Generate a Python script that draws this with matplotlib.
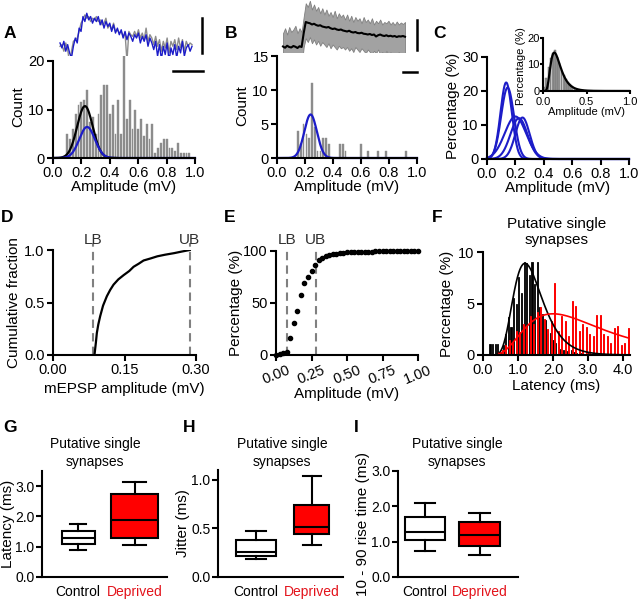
import numpy as np
import matplotlib.pyplot as plt
from matplotlib.lines import Line2D

plt.rcParams['font.family'] = ['Liberation Sans', 'DejaVu Sans']
plt.rcParams['axes.linewidth'] = 1.5
plt.rcParams['xtick.major.width'] = 1.5
plt.rcParams['ytick.major.width'] = 1.5
plt.rcParams['xtick.major.size'] = 4
plt.rcParams['ytick.major.size'] = 4
plt.rcParams['xtick.labelsize'] = 10.5
plt.rcParams['ytick.labelsize'] = 10.5
plt.rcParams['axes.labelsize'] = 11

W, H = 640, 600
BLUE = '#1c1cc8'
GREY = '#8c8c8c'
RED = '#ff0000'

# ---------------- data ----------------
# A: example traces (relative units, baseline 0, peak 1)
a_trace_grey = [0.05, 0.1, -0.1, 0.15, -0.05, -0.45, -0.1, 0.2, 0.25, 0.3,
                0.5, 0.75, 0.85, 1.0, 0.9, 0.95, 0.8, 0.9, 0.85, 0.95,
                0.8, 0.85, 0.7, 0.75, 0.9, 0.6, 0.7, 0.55, 0.75, 0.5,
                0.55, 0.45, 0.5, 0.35, 0.45, -0.4, 0.5, 0.4, 0.35, 0.5,
                0.35, 0.55, 0.3, 0.45, 0.25, 0.6, 0.2, 0.4, 0.3, 0.1,
                0.35, 0.05, 0.25, -0.1, 0.2, 0.0, 0.3, -0.15, 0.2, 0.05,
                0.25, -0.05, 0.3, 0.0, 0.25, -0.1, 0.2, 0.05, 0.15, 0.1]
a_trace_blue = [0.15, 0.0, 0.2, -0.1, 0.1, -0.15, -0.3, 0.05, 0.3, 0.15,
                0.6, 0.5, 0.95, 0.8, 1.05, 0.85, 0.95, 0.75, 0.9, 0.8,
                0.95, 0.7, 0.85, 0.6, 0.8, 0.65, 0.75, 0.5, 0.7, 0.45,
                0.6, 0.4, 0.55, 0.3, 0.5, 0.25, 0.45, 0.35, 0.2, 0.4,
                0.3, 0.45, 0.15, 0.35, 0.2, 0.4, 0.05, 0.3, 0.15, -0.05,
                0.2, -0.25, 0.1, -0.35, 0.05, -0.2, 0.15, -0.4, 0.0, -0.2,
                0.1, -0.3, 0.05, -0.15, 0.2, -0.25, 0.0, 0.1, -0.1, 0.05]
a_bin_start, a_bin_step = 0.10, 0.02
a_counts = [5, 4, 6, 9, 11, 11.5, 12, 14, 7.5, 8.5, 5, 9, 13, 15, 15, 9, 11, 5,
            12, 5, 21, 8, 12, 6, 10, 6, 8, 4.5, 7, 4, 7, 1, 2, 3, 4, 4, 2, 2,
            1.5, 3, 1, 1, 1, 1]
a_fit_black = (10.7, 0.225, 0.055)   # peak, centre, sd
a_fit_blue = (6.4, 0.24, 0.055)

# B: mean trace and spread of sweeps
b_mean = [0.02, -0.03, 0.05, 0.00, -0.02, 0.04, 0.01, -0.04, 0.03, 0.00,
          0.55, 1.00, 0.97, 0.95, 0.90, 0.93, 0.88, 0.85, 0.87, 0.82,
          0.80, 0.78, 0.80, 0.75, 0.72, 0.74, 0.70, 0.68, 0.70, 0.66,
          0.64, 0.62, 0.65, 0.60, 0.58, 0.60, 0.56, 0.55, 0.57, 0.53,
          0.52, 0.50, 0.52, 0.48, 0.50, 0.42, 0.47, 0.50, 0.46, 0.44,
          0.47, 0.43, 0.45, 0.42, 0.44, 0.40, 0.43, 0.42, 0.44, 0.41]
b_hi = [0.55, 0.75, 0.5, 0.8, 0.6, 0.7, 0.85, 0.55, 0.75, 0.6,
        1.2, 1.75, 1.6, 1.85, 1.5, 1.7, 1.45, 1.6, 1.35, 1.55,
        1.3, 1.5, 1.25, 1.4, 1.2, 1.45, 1.15, 1.35, 1.2, 1.3,
        1.1, 1.3, 1.05, 1.25, 1.0, 1.2, 1.05, 1.15, 0.95, 1.2,
        1.0, 1.1, 0.95, 1.15, 0.9, 1.05, 0.95, 1.1, 0.9, 1.0,
        0.95, 1.05, 0.9, 1.0, 0.88, 1.02, 0.9, 0.98, 0.92, 1.0]
b_lo = [-0.6, -0.9, -0.55, -0.8, -0.7, -0.85, -0.5, -0.75, -0.65, -0.8,
        0.0, 0.35, 0.2, 0.4, 0.15, 0.3, 0.1, 0.25, 0.05, 0.2,
        0.1, 0.0, 0.15, -0.05, 0.1, 0.0, -0.1, 0.05, -0.05, 0.0,
        -0.1, 0.0, -0.15, -0.05, -0.2, 0.0, -0.1, -0.2, -0.05, -0.15,
        -0.25, -0.1, -0.2, -0.3, -0.15, -0.25, -0.1, -0.3, -0.2, -0.35,
        -0.15, -0.3, -0.2, -0.35, -0.25, -0.3, -0.2, -0.35, -0.25, -0.3]
b_bin_x = [0.15, 0.17, 0.19, 0.21, 0.23, 0.25, 0.27, 0.29, 0.31, 0.33, 0.35,
           0.37, 0.45, 0.47, 0.49, 0.60, 0.65, 0.72, 0.78, 0.92]
b_counts = [4, 2, 5, 3.5, 3, 11, 4.5, 1, 1, 3, 3, 2, 2, 2, 1, 2, 1, 1, 1, 1]
b_fit_blue = (6.4, 0.24, 0.045)

# C: gaussian fits of individual cells, inset pooled histogram
c_fits = [(22.5, 0.135, 0.04), (21.0, 0.145, 0.045), (12.5, 0.20, 0.075),
          (12.0, 0.225, 0.06), (12.2, 0.25, 0.05)]
c_in_start, c_in_step = 0.0125, 0.025
c_in_pct = [1.5, 5, 9, 12.5, 14.5, 15.5, 13, 10.5, 8, 6, 4.5, 3.5, 2.5, 1.8,
            1.2, 0.8, 0.5, 0.3, 0.2, 0.1]
c_in_fit = (14.5, 0.13, 0.45)   # peak, mode, log-sd

# D: cumulative distribution of mEPSP amplitude
d_amp = [0.087, 0.090, 0.092, 0.095, 0.099, 0.105, 0.113, 0.120, 0.127,
         0.137, 0.148, 0.160, 0.169, 0.180, 0.190, 0.205, 0.219, 0.235,
         0.254, 0.270, 0.287]
d_cum = [0.0, 0.12, 0.21, 0.29, 0.37, 0.47, 0.56, 0.62, 0.67, 0.72, 0.76,
         0.80, 0.84, 0.87, 0.90, 0.92, 0.94, 0.955, 0.97, 0.985, 1.0]
d_lb, d_ub = 0.083, 0.287

# E: cumulative percentage
e_start, e_step = 0.0, 0.025
e_pct = [0, 0.5, 1.5, 3, 16, 31, 42, 58, 69, 75, 81, 87, 91, 93, 95, 96, 97,
         97.5, 98, 98.5, 98.7, 99, 99.1, 99.2, 99.3, 99.4, 99.5, 99.5, 99.6,
         99.6, 99.7, 99.7, 99.8, 99.8, 99.8, 99.9, 99.9, 99.9, 100, 100, 100]
e_lb, e_ub = 0.08, 0.28

# F: latency histograms
f_ctl_start, f_ctl_step = 0.2, 0.075
f_ctl = [1.1, 1.1, 1.1, 1.1, 0.3, 1.0, 2.0, 3.7, 2.7, 5.5, 5.0, 7.6, 6.0, 9.0,
         8.9, 7.8, 9.0, 6.9, 9.0, 4.7, 4.0, 3.4, 2.0, 2.1, 1.5, 1.2, 0.8, 0.6,
         0.5, 0.4, 0.3, 0.5, 0.3, 0.2, 0.2, 0.2, 0.1, 0.2]
f_dep_start, f_dep_step = 0.45, 0.1
f_dep = [0.3, 0.5, 1.0, 1.5, 1.2, 2.3, 2.2, 3.0, 2.7, 3.8, 3.0, 4.2, 4.7, 3.5,
         2.5, 3.3, 7.0, 2.3, 3.8, 3.3, 1.8, 5.2, 4.8, 2.3, 3.0, 2.7, 2.0, 1.8,
         3.9, 3.9, 2.0, 1.8, 1.2, 2.6, 2.8, 1.0, 1.2, 2.6]
f_fit_ctl = (8.9, 1.2, 0.345)   # peak, mode, log-sd
f_fit_dep = (4.0, 2.0, 0.55)

# G-I: box plot summaries (whislo, q1, med, q3, whishi) control / deprived
groups = ['Control', 'Deprived']
g_stats = [(0.9, 1.1, 1.28, 1.52, 1.75), (1.07, 1.3, 1.87, 2.75, 3.15)]
h_stats = [(0.19, 0.22, 0.255, 0.38, 0.47), (0.33, 0.44, 0.51, 0.74, 1.04)]
i_stats = [(0.73, 1.05, 1.27, 1.7, 2.1), (0.63, 0.87, 1.18, 1.55, 1.8)]


def gauss(x, p):
    return p[0] * np.exp(-(x - p[1]) ** 2 / (2 * p[2] ** 2))


def logfit(x, p):
    return p[0] * np.exp(-np.log(x / p[1]) ** 2 / (2 * p[2] ** 2))


fig = plt.figure(figsize=(6.4, 6.0), dpi=100)


def px_axes(l, t, r, b):
    return fig.add_axes([l / W, 1 - b / H, (r - l) / W, (b - t) / H])


def bar_line(x0, y0, x1, y1):
    # scale bar, in figure pixels
    fig.add_artist(Line2D([x0 / W, x1 / W], [1 - y0 / H, 1 - y1 / H],
                          color='k', lw=1.8, transform=fig.transFigure))


def style(ax, xlim, ylim, xticks, yticks, xfmt, yfmt, xb=None, yb=None):
    ax.set_xlim(*xlim)
    ax.set_ylim(*ylim)
    ax.spines['top'].set_visible(False)
    ax.spines['right'].set_visible(False)
    ax.spines['bottom'].set_bounds(*(xb or xlim))
    ax.spines['left'].set_bounds(*(yb or ylim))
    ax.set_xticks(xticks)
    ax.set_yticks(yticks)
    ax.set_xticklabels([xfmt % v for v in xticks])
    ax.set_yticklabels([yfmt % v for v in yticks])
    ax.tick_params(pad=2)


def label(x, y, s):
    fig.text(x / W, 1 - y / H, s, fontsize=12.5, fontweight='bold',
             ha='center', va='center')


def trace_axes(l, t, r, b):
    ax = px_axes(l, t, r, b)
    ax.axis('off')
    return ax


# ---------------- A ----------------
ax = trace_axes(58, 5, 206, 76)
n = len(a_trace_blue)
t = np.arange(n)
ax.plot(t, a_trace_grey, color=GREY, lw=1)
ax.plot(t, a_trace_blue, color=BLUE, lw=1)
k = 132 / (n - 1)
ax.set_xlim(-2 / k, 146 / k)
ax.set_ylim(-0.85, 1.30)
bar_line(202, 18, 202, 53)
bar_line(173, 71, 203, 71)

ax = px_axes(53, 56.15, 195, 158)
xa = a_bin_start + a_bin_step * np.arange(len(a_counts))
ax.bar(xa, a_counts, width=0.013, color=GREY, edgecolor=GREY, lw=0.3)
xx = np.linspace(0, 1.0, 400)
ax.plot(xx[xx < 0.45], gauss(xx[xx < 0.45], a_fit_black), color='k', lw=1.6)
ax.plot(xx, gauss(xx, a_fit_blue), color=BLUE, lw=1.6, clip_on=False)
style(ax, (0, 1.0), (0, 21), np.arange(0, 1.01, 0.2), [0, 10, 20], '%.1f', '%d',
      yb=(0, 20))
ax.set_xlabel('Amplitude (mV)', labelpad=0)
ax.set_ylabel('Count', labelpad=2)
label(10, 33, 'A')

# ---------------- B ----------------
ax = trace_axes(280, 0, 420, 75)
n = len(b_mean)
t = np.arange(n)
k = 122 / (n - 1)
ax.fill_between(t, b_lo, b_hi, color='#a2a2a2', lw=0.6, edgecolor='#808080')
ax.plot(t, b_mean, color='k', lw=1.5)
ax.set_xlim(-3 / k, 137 / k)
ax.set_ylim(-1.12, 1.88)
bar_line(417, 20, 417, 50)
bar_line(403, 72, 417, 72)

ax = px_axes(277, 52.6, 417, 158)
ax.bar(b_bin_x, b_counts, width=0.011, color=GREY, edgecolor=GREY, lw=0.3)
ax.plot(xx, gauss(xx, b_fit_blue), color=BLUE, lw=1.6, clip_on=False)
style(ax, (0, 1.0), (0, 15.5), np.arange(0, 1.01, 0.2), [0, 5, 10, 15], '%.1f', '%d',
      yb=(0, 15))
ax.set_xlabel('Amplitude (mV)', labelpad=0)
ax.set_ylabel('Count', labelpad=2)
label(231, 33, 'B')

# ---------------- C ----------------
ax = px_axes(487, 53.6, 629, 159)
for p in c_fits:
    ax.plot(xx, gauss(xx, p), color=BLUE, lw=1.5, clip_on=False)
style(ax, (0, 1.0), (0, 31), np.arange(0, 1.01, 0.2), [0, 10, 20, 30], '%.1f', '%d',
      yb=(0, 30))
ax.set_xlabel('Amplitude (mV)', labelpad=0)
ax.set_ylabel('Percentage (%)', labelpad=2)
label(440, 33, 'C')

ax = px_axes(543, 35.35, 630, 91)
xi = c_in_start + c_in_step * np.arange(len(c_in_pct))
ax.bar(xi, c_in_pct, width=0.02, color='#9a9a9a', edgecolor='#606060', lw=0.3)
xs = np.linspace(0.005, 1.0, 300)
ax.plot(xs, logfit(xs, c_in_fit), color='k', lw=1.6)
style(ax, (0, 1.0), (0, 21), [0, 0.5, 1.0], [0, 10, 20], '%.1f', '%d', yb=(0, 20))
ax.tick_params(labelsize=8, length=2, pad=0.5)
ax.tick_params(axis='x', pad=2)
ax.set_xlabel('Amplitude (mV)', fontsize=8, labelpad=0)
ax.set_ylabel('Percentage (%)', fontsize=8)
ax.yaxis.set_label_coords(-0.19, 0.45)

# ---------------- D ----------------
ax = px_axes(53, 250, 196, 355)
for v, s in ((d_lb, 'LB'), (d_ub, 'UB')):
    ax.plot([v, v], [0, 1.07], color='#808080', lw=1.5, ls=(0, (4, 2.5)),
            clip_on=False)
    ax.text(v, 1.1, s, ha='center', va='center', fontsize=11, color='#303030')
ax.plot(d_amp, d_cum, color='k', lw=1.6)
style(ax, (0, 0.30), (0, 1.0), [0, 0.15, 0.30], [0, 0.5, 1.0], '%.2f', '%.1f')
ax.set_xlabel('mEPSP amplitude (mV)', labelpad=3)
ax.set_ylabel('Cumulative fraction', labelpad=2)
label(7, 218, 'D')

# ---------------- E ----------------
ax = px_axes(276, 251, 418, 355)
for v, s in ((e_lb, 'LB'), (e_ub, 'UB')):
    ax.plot([v, v], [0, 103], color='#808080', lw=1.5, ls=(0, (4, 2.5)),
            clip_on=False)
    ax.text(v, 110.5, s, ha='center', va='center', fontsize=11, color='#303030')
xe = e_start + e_step * np.arange(len(e_pct))
ax.plot(xe, e_pct, 'o', color='k', ms=3.0, clip_on=False, zorder=3)
style(ax, (0, 1.0), (0, 100), [0, 0.25, 0.5, 0.75, 1.0], [0, 50, 100], '%.2f', '%d')
for tl in ax.get_xticklabels():
    tl.set_rotation(22)
ax.set_xlabel('Amplitude (mV)', labelpad=0)
ax.set_ylabel('Percentage (%)', labelpad=0)
label(230, 218, 'E')

# ---------------- F ----------------
ax = px_axes(483, 252, 630, 355)
xc = f_ctl_start + f_ctl_step * np.arange(len(f_ctl))
ax.bar(xc, f_ctl, width=0.03, color='k', edgecolor='k', lw=0.6)
xd = f_dep_start + f_dep_step * np.arange(len(f_dep))
ax.bar(xd, f_dep, width=0.035, color='#901010', edgecolor=RED, lw=0.7)
xs = np.linspace(0.3, 4.2, 400)
ax.plot(xs, logfit(xs, f_fit_ctl), color='k', lw=1.2)
xs2 = np.linspace(0.45, 4.15, 400)
ax.plot(xs2, logfit(xs2, f_fit_dep), color=RED, lw=1.2)
style(ax, (0, 4.2), (0, 10), [0, 1, 2, 3, 4], [0, 5, 10], '%.1f', '%d')
ax.set_xlabel('Latency (ms)', labelpad=1)
ax.set_ylabel('Percentage (%)', labelpad=3)
fig.text(557 / W, 1 - 232 / H, 'Putative single\nsynapses', ha='center',
         va='center', fontsize=11, linespacing=1.25)
label(437, 218, 'F')


# ---------------- G-I ----------------
def box_panel(px, stats, pos, widths, ylim, yticks, ylabel, tx, lab_x=None):
    ax = px_axes(*px)
    bs = []
    for s, g in zip(stats, groups):
        bs.append(dict(whislo=s[0], q1=s[1], med=s[2], q3=s[3], whishi=s[4],
                       label=g))
    art = ax.bxp(bs, positions=pos, widths=widths, showfliers=False,
                 patch_artist=True,
                 boxprops=dict(lw=1.5, edgecolor='k'),
                 medianprops=dict(color='k', lw=1.5),
                 whiskerprops=dict(lw=1.5), capprops=dict(lw=1.5),
                 capwidths=[w * 0.5 for w in widths])
    art['boxes'][0].set_facecolor('white')
    art['boxes'][1].set_facecolor(RED)
    style(ax, (0, 1), ylim, pos, yticks, '%s', '%.1f')
    ax.set_xticklabels(groups)
    ax.get_xticklabels()[1].set_color('#e3131b')
    ax.tick_params(axis='x', length=0, pad=6, labelsize=10)
    ax.tick_params(axis='y', labelsize=10, pad=1.5)
    ax.set_ylabel(ylabel, labelpad=1, fontsize=11)
    if lab_x is not None:
        ax.yaxis.set_label_coords(lab_x, 0.5)
    fig.text(tx / W, 1 - 453 / H, 'Putative single\nsynapses', ha='center',
             va='center', fontsize=10, linespacing=1.3)
    return ax


box_panel((42, 471, 167, 577), g_stats, [0.29, 0.74], [0.26, 0.37],
          (0, 3.5), [0, 1, 2, 3], 'Latency (ms)', 95, lab_x=-0.215)
label(10, 428, 'G')
box_panel((218, 470, 343, 577), h_stats, [0.30, 0.75], [0.32, 0.28],
          (0, 1.1), [0, 0.5, 1.0], 'Jitter (ms)', 282)
label(189, 428, 'H')
box_panel((398, 471, 518, 577), i_stats, [0.225, 0.68], [0.33, 0.34],
          (0, 3.0), [0, 1, 2, 3], '10 - 90 rise time (ms)', 457)
label(356, 428, 'I')

fig.savefig('out.png', dpi=100)
